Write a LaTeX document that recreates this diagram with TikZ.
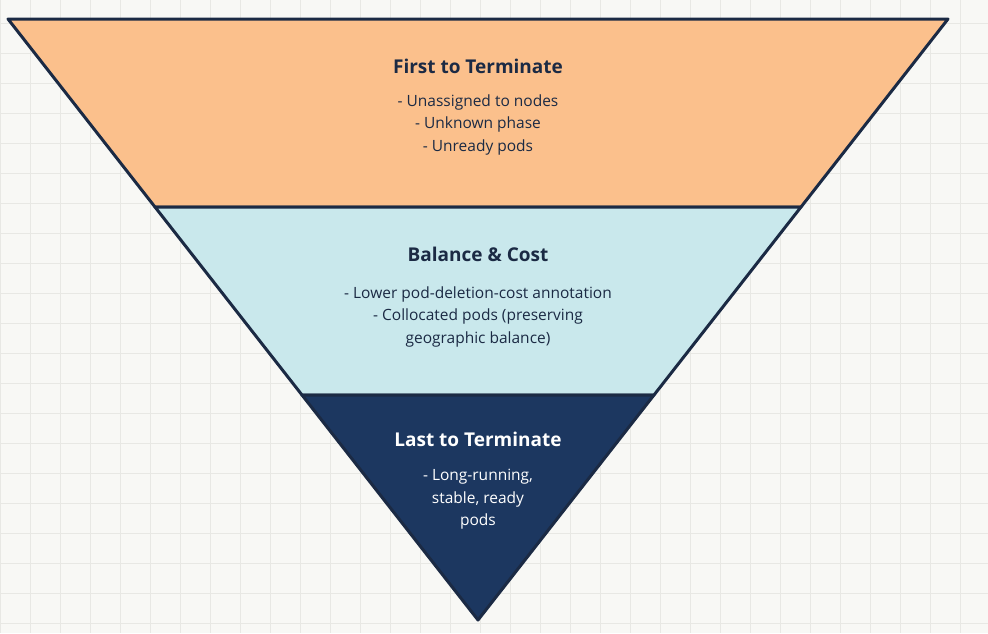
\documentclass[tikz,border=0pt]{standalone}
\usepackage{fontspec}
\setmainfont{Open Sans}
\begin{document}
\begin{tikzpicture}[x=1pt,y=-1pt,
  band/.style={draw=edge,line width=3pt,line join=round},
  ttl/.style={font=\fontsize{19}{23}\selectfont\bfseries,text=edge},
  body/.style={font=\fontsize{15.5}{22.5}\selectfont,align=center,text=edge}]
\definecolor{bg}{HTML}{F8F8F5}
\definecolor{gridc}{HTML}{E8E8E4}
\definecolor{edge}{HTML}{1B2A44}
\definecolor{orng}{HTML}{FBC08C}
\definecolor{lblue}{HTML}{C9E8EC}
\definecolor{navy}{HTML}{1C3760}
\useasboundingbox (0,0) rectangle (988,633);
\fill[bg] (0,0) rectangle (988,633);
\foreach \x in {0,30,...,990} \draw[gridc,line width=0.8pt] (\x,0) -- (\x,633);
\foreach \y in {23,53,...,633} \draw[gridc,line width=0.8pt] (0,\y) -- (988,\y);
\coordinate (tl) at (8,19); \coordinate (tr) at (948,19); \coordinate (ap) at (478,620);
\coordinate (ml) at (155,207); \coordinate (mr) at (801,207);
\coordinate (ll) at (302,395); \coordinate (lr) at (654,395);
\draw[band,fill=orng] (tl) -- (tr) -- (mr) -- (ml) -- cycle;
\draw[band,fill=lblue] (ml) -- (mr) -- (lr) -- (ll) -- cycle;
\draw[band,fill=navy] (ll) -- (lr) -- (ap) -- cycle;
\node[ttl] (t1) at (478,66) {First to Terminate};
\node[body,anchor=north] (b1) at (478,91) {- Unassigned to nodes\\- Unknown phase\\- Unready pods};
\node[ttl] (t2) at (478,254) {Balance \& Cost};
\node[body,anchor=north] (b2) at (478,283) {- Lower pod-deletion-cost annotation\\- Collocated pods (preserving\\geographic balance)};
\node[ttl,text=white] (t3) at (478,439) {Last to Terminate};
\node[body,text=white,anchor=north] (b3) at (478,466) {- Long-running,\\stable, ready\\pods};
\end{tikzpicture}
\end{document}
